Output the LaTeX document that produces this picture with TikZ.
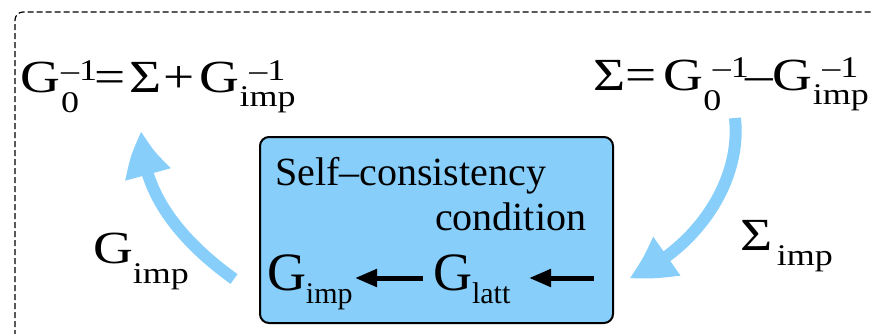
\documentclass[tikz,border=0pt]{standalone}
\usepackage{fontspec}
\setmainfont{Liberation Serif}
\usetikzlibrary{arrows.meta,bending}
\definecolor{sky}{RGB}{135,206,250}
\newcommand{\fbig}{\fontsize{46}{46}\selectfont}
\newcommand{\fboxg}{\fontsize{54}{54}\selectfont}
\newcommand{\fscr}{\fontsize{30}{30}\selectfont}
\newcommand{\fmid}{\fontsize{40}{40}\selectfont}
\newcommand{\up}[2]{\raisebox{#1}{\fscr #2}}
\newcommand{\dn}[2]{\raisebox{-#1}{\fscr #2}}
\newcommand{\wide}[1]{\scalebox{1.2}[1]{#1}}
\tikzset{
  txt/.style={anchor=base west, inner sep=0pt, outer sep=0pt},
  flow/.style={draw=sky, line width=12pt, -{Triangle[bend,width=44pt,length=44pt]}},
  inarrow/.style={line width=5pt, -{Triangle[width=17pt,length=22pt]}},
  frame/.style={line width=1.2pt, dash pattern=on 6pt off 3pt},
  scbox/.style={draw, line width=2pt, fill=sky, rounded corners=9pt, minimum width=353pt, minimum height=186pt, inner sep=0pt}
}
\begin{document}
\begin{tikzpicture}[x=1pt,y=-1pt]
\useasboundingbox (0,0) rectangle (871,333);
\clip (0,0) rectangle (871,333);
\draw[frame, rounded corners=8pt] (15,345) -- (15,12) -- (885,12);
% equations
\node[txt, font=\fbig] (eqL) at (20,92) {\wide{G\hspace{1pt}\rlap{\up{12pt}{–1}}\dn{20pt}{0}\hspace{13pt}=\hspace{3pt}Σ\hspace{2pt}+\hspace{4pt}G\rlap{\hspace{8pt}\up{12pt}{–1}}\dn{14pt}{imp}}};
\node[txt, font=\fbig] (eqR) at (593,90) {\wide{Σ=\hspace{6pt}G\dn{20pt}{0}\hspace{-7pt}\up{13pt}{–1}\hspace{-3pt}–G\rlap{\hspace{8pt}\up{13pt}{–1}}\dn{14pt}{imp}}};
% box
\node[scbox] (box) at (436.5,230) {};
\node[txt, font=\fmid] (self) at (275,185) {Self–consistency};
\node[txt, font=\fmid] (cond) at (435,230) {condition};
\node[txt, font=\fboxg] (gimp) at (267,290) {G\dn{13pt}{imp}};
\node[txt, font=\fboxg] (glatt) at (433,290) {G\dn{13pt}{latt}};
\coordinate (rin) at (594,278);
\coordinate (glattin) at (529,278);
\draw[inarrow] (rin) -- (glattin);
\coordinate (a1) at (423,278);
\coordinate (a2) at (355,278);
\draw[inarrow] (a1) -- (a2);
% blue arrows
\coordinate (ls) at (234,279);
\coordinate (le) at (142,131);
\draw[flow] (ls) .. controls (170,233) and (140,183) .. (le);
\coordinate (rs) at (735,118);
\coordinate (re) at (629,278);
\draw[flow] (rs) .. controls (742,183) and (695,250) .. (re);
% labels
\node[txt, font=\fbig] (lg) at (93,263) {\wide{G\dn{20pt}{imp}}};
\node[txt, font=\fbig] (ls2) at (740,250) {\wide{Σ\hspace{4pt}\dn{15pt}{imp}}};
\end{tikzpicture}
\end{document}
